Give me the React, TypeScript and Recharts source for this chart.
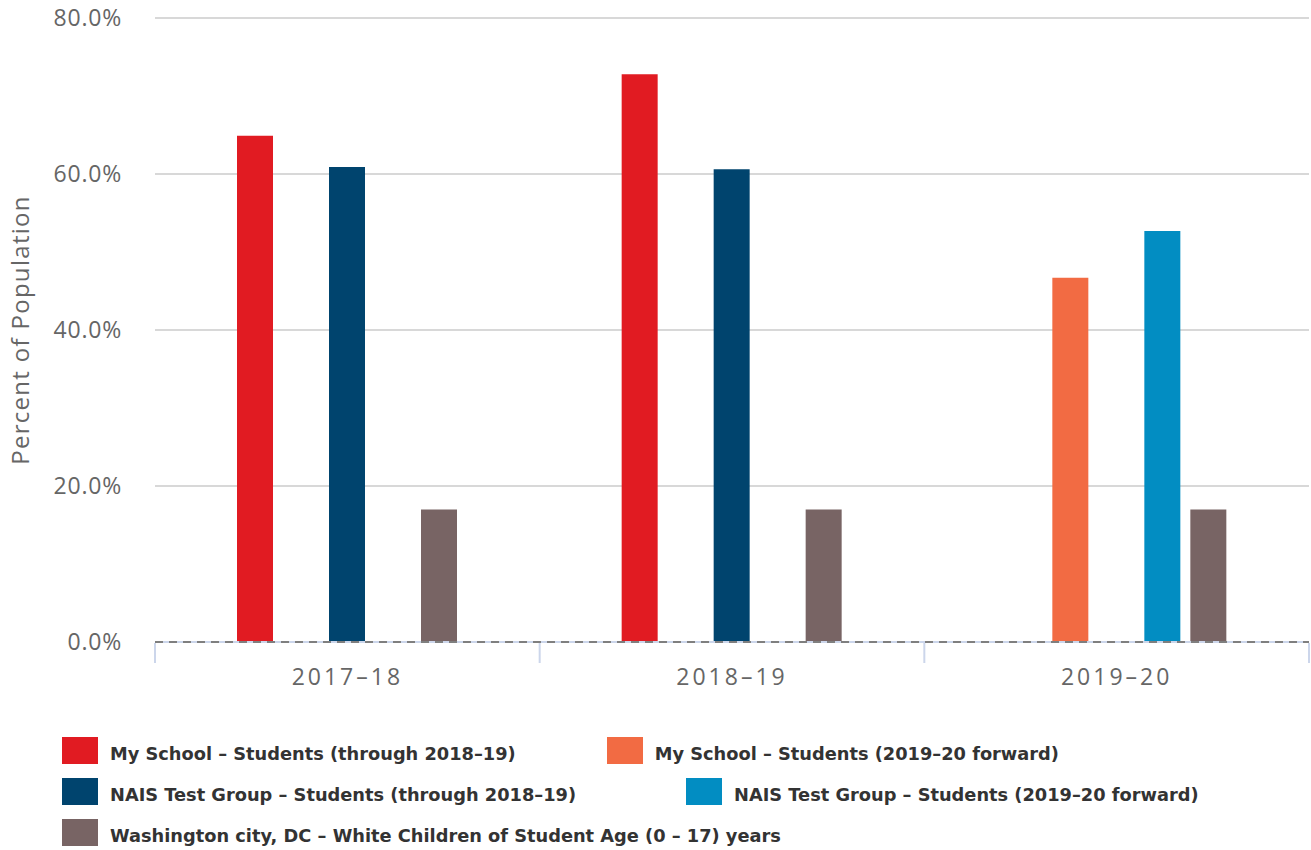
import React from 'react'
import {
  BarChart,
  Bar,
  XAxis,
  YAxis,
  CartesianGrid,
  ReferenceLine,
} from 'recharts'

// school years on the x axis
const years = ['2017-18', '2018-19', '2019-20']

// percent of population, null where a series has no value for that year
const mySchoolOld = [64.9, 72.8, null]
const mySchoolNew = [null, null, 46.7]
const naisOld = [60.9, 60.6, null]
const naisNew = [null, null, 52.7]
const washington = [17.0, 17.0, 17.0]

const yTicks = [0, 20, 40, 60, 80]

const SERIES = [
  { key: 'mySchoolOld', name: 'My School – Students (through 2018–19)', color: '#e11b22', values: mySchoolOld },
  { key: 'mySchoolNew', name: 'My School – Students (2019–20 forward)', color: '#f26b43', values: mySchoolNew },
  { key: 'naisOld', name: 'NAIS Test Group – Students (through 2018–19)', color: '#00446e', values: naisOld },
  { key: 'naisNew', name: 'NAIS Test Group – Students (2019–20 forward)', color: '#028dc2', values: naisNew },
  { key: 'washington', name: 'Washington city, DC – White Children of Student Age (0 – 17) years', color: '#786464', values: washington },
]

// legend rows, as Highcharts laid them out
const legendRows = [
  ['mySchoolOld', 'mySchoolNew'],
  ['naisOld', 'naisNew'],
  ['washington'],
]
const legendGaps = [91, 110, 0]

const CHART_W = 1311
const CHART_H = 700
const YAXIS_W = 155
const MARGIN_RIGHT = 2
const X_AXIS_H = 58
const PLOT_BOTTOM = CHART_H - X_AXIS_H
const BAND = (CHART_W - YAXIS_W - MARGIN_RIGHT) / years.length

const TICK_FONT = '"Open Sans", sans-serif'
const LEGEND_FONT = '"DejaVu Sans", sans-serif'

const data = years.map((year, i) => {
  const row: Record<string, number | string | null> = { year }
  SERIES.forEach(s => {
    row[s.key] = s.values[i]
  })
  return row
})

// category label plus Highcharts-style tick marks on the category boundaries
function YearTick(props: any) {
  const { x, payload, index } = props
  const left = x - BAND / 2
  const right = x + BAND / 2
  return (
    <g>
      <line x1={left} x2={left} y1={PLOT_BOTTOM + 1} y2={PLOT_BOTTOM + 21} stroke="#ccd6eb" strokeWidth={2} />
      {index === years.length - 1 && (
        <line x1={right} x2={right} y1={PLOT_BOTTOM + 1} y2={PLOT_BOTTOM + 21} stroke="#ccd6eb" strokeWidth={2} />
      )}
      <text
        x={x}
        y={PLOT_BOTTOM + 43}
        textAnchor="middle"
        fill="#666"
        fontSize={23}
        fontFamily={TICK_FONT}
        letterSpacing={3}
      >
        {payload.value.replace('-', '–')}
      </text>
    </g>
  )
}

function ChartLegend() {
  return (
    <div
      style={{
        position: 'absolute',
        left: 62,
        top: 737,
        fontFamily: LEGEND_FONT,
        fontWeight: 700,
        fontSize: 17.8,
        color: '#333',
      }}
    >
      {legendRows.map((row, r) => (
        <div key={r} style={{ display: 'flex', gap: legendGaps[r], height: 41, alignItems: 'flex-start' }}>
          {row.map(k => {
            const s = SERIES.find(x => x.key === k)!
            return (
              <div key={k} style={{ display: 'flex', alignItems: 'center', whiteSpace: 'nowrap' }}>
                <span style={{ width: 36, height: 27, background: s.color, display: 'inline-block', marginRight: 12 }} />
                <span style={{ position: 'relative', top: 3 }}>{s.name}</span>
              </div>
            )
          })}
        </div>
      ))}
    </div>
  )
}

export default function App() {
  return (
    <div style={{ position: 'absolute', left: 0, top: 0, width: CHART_W, height: 850, background: '#fff' }}>
      <BarChart
        width={CHART_W}
        height={CHART_H}
        data={data}
        margin={{ top: 18, right: MARGIN_RIGHT, bottom: 0, left: 0 }}
        barSize={36}
        barGap={10}
      >
        <CartesianGrid vertical={false} stroke="#d8d8d8" strokeWidth={2} />
        <ReferenceLine y={0} stroke="#ccd6eb" strokeWidth={2} />
        <XAxis
          dataKey="year"
          height={X_AXIS_H}
          axisLine={{ stroke: '#7f7f7f', strokeWidth: 2, strokeDasharray: '8 6' }}
          tickLine={false}
          tick={<YearTick />}
          interval={0}
        />
        <YAxis
          width={YAXIS_W}
          domain={[0, 80]}
          ticks={yTicks}
          axisLine={false}
          tickLine={false}
          tickSize={0}
          tickMargin={33}
          tickFormatter={(v: number) => `${v.toFixed(1)}%`}
          tick={{ fill: '#666', fontSize: 23, fontFamily: TICK_FONT, letterSpacing: 0.8 }}
          label={{
            value: 'Percent of Population',
            angle: -90,
            position: 'insideLeft',
            offset: 20,
            style: { textAnchor: 'middle', fill: '#666', fontSize: 24, fontFamily: TICK_FONT, letterSpacing: 1.3 },
          }}
        />
        {SERIES.map(s => (
          <Bar key={s.key} dataKey={s.key} name={s.name} fill={s.color} isAnimationActive={false} />
        ))}
      </BarChart>
      <ChartLegend />
    </div>
  )
}
